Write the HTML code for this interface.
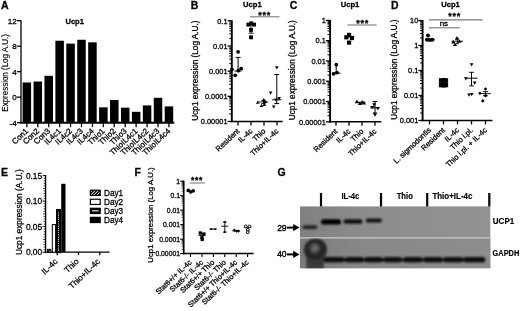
<!DOCTYPE html>
<html><head><meta charset="utf-8"><title>Figure</title>
<style>html,body{margin:0;padding:0;background:#fff}svg{display:block}text{font-family:'Liberation Sans', Arial, sans-serif;stroke:#000;stroke-width:.28px}</style></head>
<body><svg width="520" height="311" viewBox="0 0 520 311">
<rect width="520" height="311" fill="#fff"/>
<text x="1.10" y="8.70" font-size="10.5" text-anchor="start" font-weight="bold" fill="#000">A</text>
<text x="74.70" y="23.60" font-size="7.6" text-anchor="middle" font-weight="bold" fill="#000">Ucp1</text>
<line x1="21.00" y1="20.15" x2="21.00" y2="123.25" stroke="#000" stroke-width="1.3" stroke-linecap="butt"/>
<line x1="16.90" y1="20.65" x2="21.00" y2="20.65" stroke="#000" stroke-width="1.3" stroke-linecap="butt"/>
<text x="16.70" y="23.55" font-size="8" text-anchor="end" font-weight="normal" fill="#000">12</text>
<line x1="16.90" y1="46.15" x2="21.00" y2="46.15" stroke="#000" stroke-width="1.3" stroke-linecap="butt"/>
<text x="16.70" y="49.05" font-size="8" text-anchor="end" font-weight="normal" fill="#000">8</text>
<line x1="16.90" y1="71.65" x2="21.00" y2="71.65" stroke="#000" stroke-width="1.3" stroke-linecap="butt"/>
<text x="16.70" y="74.55" font-size="8" text-anchor="end" font-weight="normal" fill="#000">4</text>
<line x1="16.90" y1="97.15" x2="21.00" y2="97.15" stroke="#000" stroke-width="1.3" stroke-linecap="butt"/>
<text x="16.70" y="100.05" font-size="8" text-anchor="end" font-weight="normal" fill="#000">0</text>
<line x1="16.90" y1="122.65" x2="21.00" y2="122.65" stroke="#000" stroke-width="1.3" stroke-linecap="butt"/>
<text x="16.70" y="125.55" font-size="8" text-anchor="end" font-weight="normal" fill="#000">-4</text>
<rect x="22.60" y="82.49" width="8.50" height="40.16" fill="#000"/>
<rect x="33.53" y="81.53" width="8.50" height="41.12" fill="#000"/>
<rect x="44.46" y="75.79" width="8.50" height="46.86" fill="#000"/>
<rect x="55.39" y="40.73" width="8.50" height="81.92" fill="#000"/>
<rect x="66.32" y="43.60" width="8.50" height="79.05" fill="#000"/>
<rect x="77.25" y="39.77" width="8.50" height="82.88" fill="#000"/>
<rect x="88.18" y="42.33" width="8.50" height="80.33" fill="#000"/>
<rect x="99.11" y="107.35" width="8.50" height="15.30" fill="#000"/>
<rect x="110.04" y="100.02" width="8.50" height="22.63" fill="#000"/>
<rect x="120.97" y="107.67" width="8.50" height="14.98" fill="#000"/>
<rect x="131.90" y="111.81" width="8.50" height="10.84" fill="#000"/>
<rect x="142.83" y="105.44" width="8.50" height="17.21" fill="#000"/>
<rect x="153.76" y="97.79" width="8.50" height="24.86" fill="#000"/>
<rect x="164.69" y="106.39" width="8.50" height="16.26" fill="#000"/>
<line x1="20.05" y1="122.75" x2="174.30" y2="122.75" stroke="#000" stroke-width="1.9" stroke-linecap="butt"/>
<line x1="26.85" y1="122.75" x2="26.85" y2="127.15" stroke="#000" stroke-width="1.3" stroke-linecap="butt"/>
<line x1="37.78" y1="122.75" x2="37.78" y2="127.15" stroke="#000" stroke-width="1.3" stroke-linecap="butt"/>
<line x1="48.71" y1="122.75" x2="48.71" y2="127.15" stroke="#000" stroke-width="1.3" stroke-linecap="butt"/>
<line x1="59.64" y1="122.75" x2="59.64" y2="127.15" stroke="#000" stroke-width="1.3" stroke-linecap="butt"/>
<line x1="70.57" y1="122.75" x2="70.57" y2="127.15" stroke="#000" stroke-width="1.3" stroke-linecap="butt"/>
<line x1="81.50" y1="122.75" x2="81.50" y2="127.15" stroke="#000" stroke-width="1.3" stroke-linecap="butt"/>
<line x1="92.43" y1="122.75" x2="92.43" y2="127.15" stroke="#000" stroke-width="1.3" stroke-linecap="butt"/>
<line x1="103.36" y1="122.75" x2="103.36" y2="127.15" stroke="#000" stroke-width="1.3" stroke-linecap="butt"/>
<line x1="114.29" y1="122.75" x2="114.29" y2="127.15" stroke="#000" stroke-width="1.3" stroke-linecap="butt"/>
<line x1="125.22" y1="122.75" x2="125.22" y2="127.15" stroke="#000" stroke-width="1.3" stroke-linecap="butt"/>
<line x1="136.15" y1="122.75" x2="136.15" y2="127.15" stroke="#000" stroke-width="1.3" stroke-linecap="butt"/>
<line x1="147.08" y1="122.75" x2="147.08" y2="127.15" stroke="#000" stroke-width="1.3" stroke-linecap="butt"/>
<line x1="158.01" y1="122.75" x2="158.01" y2="127.15" stroke="#000" stroke-width="1.3" stroke-linecap="butt"/>
<line x1="168.94" y1="122.75" x2="168.94" y2="127.15" stroke="#000" stroke-width="1.3" stroke-linecap="butt"/>
<text x="28.85" y="131.65" font-size="8" text-anchor="end" font-weight="normal" fill="#000" transform="rotate(-43.5 28.85 131.65)">Con1</text>
<text x="39.78" y="131.65" font-size="8" text-anchor="end" font-weight="normal" fill="#000" transform="rotate(-43.5 39.78 131.65)">Con2</text>
<text x="50.71" y="131.65" font-size="8" text-anchor="end" font-weight="normal" fill="#000" transform="rotate(-43.5 50.71 131.65)">Con3</text>
<text x="61.64" y="131.65" font-size="8" text-anchor="end" font-weight="normal" fill="#000" transform="rotate(-43.5 61.64 131.65)">IL4c1</text>
<text x="72.57" y="131.65" font-size="8" text-anchor="end" font-weight="normal" fill="#000" transform="rotate(-43.5 72.57 131.65)">IL4c2</text>
<text x="83.50" y="131.65" font-size="8" text-anchor="end" font-weight="normal" fill="#000" transform="rotate(-43.5 83.50 131.65)">IL4c3</text>
<text x="94.43" y="131.65" font-size="8" text-anchor="end" font-weight="normal" fill="#000" transform="rotate(-43.5 94.43 131.65)">IL4c4</text>
<text x="105.36" y="131.65" font-size="8" text-anchor="end" font-weight="normal" fill="#000" transform="rotate(-43.5 105.36 131.65)">Thio1</text>
<text x="116.29" y="131.65" font-size="8" text-anchor="end" font-weight="normal" fill="#000" transform="rotate(-43.5 116.29 131.65)">Thio2</text>
<text x="127.22" y="131.65" font-size="8" text-anchor="end" font-weight="normal" fill="#000" transform="rotate(-43.5 127.22 131.65)">Thio3</text>
<text x="138.15" y="131.65" font-size="8" text-anchor="end" font-weight="normal" fill="#000" transform="rotate(-43.5 138.15 131.65)">ThioIL4c1</text>
<text x="149.08" y="131.65" font-size="8" text-anchor="end" font-weight="normal" fill="#000" transform="rotate(-43.5 149.08 131.65)">ThioIL4c2</text>
<text x="160.01" y="131.65" font-size="8" text-anchor="end" font-weight="normal" fill="#000" transform="rotate(-43.5 160.01 131.65)">ThioIL4c3</text>
<text x="170.94" y="131.65" font-size="8" text-anchor="end" font-weight="normal" fill="#000" transform="rotate(-43.5 170.94 131.65)">ThioIL4c4</text>
<text x="7.70" y="72.90" font-size="8.8" text-anchor="middle" font-weight="normal" fill="#000" transform="rotate(-90 7.70 72.90)" textLength="77.5" lengthAdjust="spacingAndGlyphs" style="stroke-width:.15px">Expression (Log A.U.)</text>
<text x="190.80" y="8.80" font-size="10.5" text-anchor="start" font-weight="bold" fill="#000">B</text>
<text x="252.40" y="6.70" font-size="7.6" text-anchor="middle" font-weight="bold" fill="#000">Ucp1</text>
<line x1="231.80" y1="20.30" x2="231.80" y2="122.20" stroke="#000" stroke-width="1.9" stroke-linecap="butt"/>
<line x1="227.60" y1="20.80" x2="231.80" y2="20.80" stroke="#000" stroke-width="1.3" stroke-linecap="butt"/>
<text x="227.50" y="23.61" font-size="7.4" text-anchor="end" font-weight="normal" fill="#000">0.1</text>
<line x1="229.20" y1="38.40" x2="231.80" y2="38.40" stroke="#000" stroke-width="0.95" stroke-linecap="butt"/>
<line x1="229.20" y1="33.96" x2="231.80" y2="33.96" stroke="#000" stroke-width="0.95" stroke-linecap="butt"/>
<line x1="229.20" y1="30.82" x2="231.80" y2="30.82" stroke="#000" stroke-width="0.95" stroke-linecap="butt"/>
<line x1="229.20" y1="28.38" x2="231.80" y2="28.38" stroke="#000" stroke-width="0.95" stroke-linecap="butt"/>
<line x1="229.20" y1="26.39" x2="231.80" y2="26.39" stroke="#000" stroke-width="0.95" stroke-linecap="butt"/>
<line x1="229.20" y1="24.70" x2="231.80" y2="24.70" stroke="#000" stroke-width="0.95" stroke-linecap="butt"/>
<line x1="229.20" y1="23.24" x2="231.80" y2="23.24" stroke="#000" stroke-width="0.95" stroke-linecap="butt"/>
<line x1="229.20" y1="21.95" x2="231.80" y2="21.95" stroke="#000" stroke-width="0.95" stroke-linecap="butt"/>
<line x1="227.60" y1="45.98" x2="231.80" y2="45.98" stroke="#000" stroke-width="1.3" stroke-linecap="butt"/>
<text x="227.50" y="48.79" font-size="7.4" text-anchor="end" font-weight="normal" fill="#000">0.01</text>
<line x1="229.20" y1="63.57" x2="231.80" y2="63.57" stroke="#000" stroke-width="0.95" stroke-linecap="butt"/>
<line x1="229.20" y1="59.14" x2="231.80" y2="59.14" stroke="#000" stroke-width="0.95" stroke-linecap="butt"/>
<line x1="229.20" y1="55.99" x2="231.80" y2="55.99" stroke="#000" stroke-width="0.95" stroke-linecap="butt"/>
<line x1="229.20" y1="53.55" x2="231.80" y2="53.55" stroke="#000" stroke-width="0.95" stroke-linecap="butt"/>
<line x1="229.20" y1="51.56" x2="231.80" y2="51.56" stroke="#000" stroke-width="0.95" stroke-linecap="butt"/>
<line x1="229.20" y1="49.87" x2="231.80" y2="49.87" stroke="#000" stroke-width="0.95" stroke-linecap="butt"/>
<line x1="229.20" y1="48.41" x2="231.80" y2="48.41" stroke="#000" stroke-width="0.95" stroke-linecap="butt"/>
<line x1="229.20" y1="47.13" x2="231.80" y2="47.13" stroke="#000" stroke-width="0.95" stroke-linecap="butt"/>
<line x1="227.60" y1="71.15" x2="231.80" y2="71.15" stroke="#000" stroke-width="1.3" stroke-linecap="butt"/>
<text x="227.50" y="73.96" font-size="7.4" text-anchor="end" font-weight="normal" fill="#000">0.001</text>
<line x1="229.20" y1="88.75" x2="231.80" y2="88.75" stroke="#000" stroke-width="0.95" stroke-linecap="butt"/>
<line x1="229.20" y1="84.31" x2="231.80" y2="84.31" stroke="#000" stroke-width="0.95" stroke-linecap="butt"/>
<line x1="229.20" y1="81.17" x2="231.80" y2="81.17" stroke="#000" stroke-width="0.95" stroke-linecap="butt"/>
<line x1="229.20" y1="78.73" x2="231.80" y2="78.73" stroke="#000" stroke-width="0.95" stroke-linecap="butt"/>
<line x1="229.20" y1="76.74" x2="231.80" y2="76.74" stroke="#000" stroke-width="0.95" stroke-linecap="butt"/>
<line x1="229.20" y1="75.05" x2="231.80" y2="75.05" stroke="#000" stroke-width="0.95" stroke-linecap="butt"/>
<line x1="229.20" y1="73.59" x2="231.80" y2="73.59" stroke="#000" stroke-width="0.95" stroke-linecap="butt"/>
<line x1="229.20" y1="72.30" x2="231.80" y2="72.30" stroke="#000" stroke-width="0.95" stroke-linecap="butt"/>
<line x1="227.60" y1="96.33" x2="231.80" y2="96.33" stroke="#000" stroke-width="1.3" stroke-linecap="butt"/>
<text x="227.50" y="99.14" font-size="7.4" text-anchor="end" font-weight="normal" fill="#000">0.0001</text>
<line x1="229.20" y1="113.92" x2="231.80" y2="113.92" stroke="#000" stroke-width="0.95" stroke-linecap="butt"/>
<line x1="229.20" y1="109.49" x2="231.80" y2="109.49" stroke="#000" stroke-width="0.95" stroke-linecap="butt"/>
<line x1="229.20" y1="106.34" x2="231.80" y2="106.34" stroke="#000" stroke-width="0.95" stroke-linecap="butt"/>
<line x1="229.20" y1="103.90" x2="231.80" y2="103.90" stroke="#000" stroke-width="0.95" stroke-linecap="butt"/>
<line x1="229.20" y1="101.91" x2="231.80" y2="101.91" stroke="#000" stroke-width="0.95" stroke-linecap="butt"/>
<line x1="229.20" y1="100.22" x2="231.80" y2="100.22" stroke="#000" stroke-width="0.95" stroke-linecap="butt"/>
<line x1="229.20" y1="98.76" x2="231.80" y2="98.76" stroke="#000" stroke-width="0.95" stroke-linecap="butt"/>
<line x1="229.20" y1="97.48" x2="231.80" y2="97.48" stroke="#000" stroke-width="0.95" stroke-linecap="butt"/>
<line x1="227.60" y1="121.50" x2="231.80" y2="121.50" stroke="#000" stroke-width="1.3" stroke-linecap="butt"/>
<text x="227.50" y="124.31" font-size="7.4" text-anchor="end" font-weight="normal" fill="#000">0.00001</text>
<line x1="231.00" y1="121.50" x2="282.70" y2="121.50" stroke="#000" stroke-width="1.6" stroke-linecap="butt"/>
<line x1="238.00" y1="121.50" x2="238.00" y2="125.40" stroke="#000" stroke-width="1.3" stroke-linecap="butt"/>
<line x1="251.00" y1="121.50" x2="251.00" y2="125.40" stroke="#000" stroke-width="1.3" stroke-linecap="butt"/>
<line x1="264.00" y1="121.50" x2="264.00" y2="125.40" stroke="#000" stroke-width="1.3" stroke-linecap="butt"/>
<line x1="277.00" y1="121.50" x2="277.00" y2="125.40" stroke="#000" stroke-width="1.3" stroke-linecap="butt"/>
<text x="240.00" y="131.70" font-size="7.5" text-anchor="end" font-weight="normal" fill="#000" transform="rotate(-43.5 240.00 131.70)">Resident</text>
<text x="253.00" y="131.70" font-size="7.5" text-anchor="end" font-weight="normal" fill="#000" transform="rotate(-43.5 253.00 131.70)">IL-4c</text>
<text x="266.00" y="131.70" font-size="7.5" text-anchor="end" font-weight="normal" fill="#000" transform="rotate(-43.5 266.00 131.70)">Thio</text>
<text x="279.00" y="131.70" font-size="7.5" text-anchor="end" font-weight="normal" fill="#000" transform="rotate(-43.5 279.00 131.70)">Thio+IL-4c</text>
<text x="197.60" y="70.60" font-size="8.2" text-anchor="middle" font-weight="normal" fill="#000" transform="rotate(-90 197.60 70.60)">Ucp1 expression (Log A.U.)</text>
<line x1="238.10" y1="57.40" x2="238.10" y2="71.00" stroke="#000" stroke-width="1.0" stroke-linecap="butt"/>
<line x1="235.70" y1="57.40" x2="240.60" y2="57.40" stroke="#000" stroke-width="1.0" stroke-linecap="butt"/>
<line x1="234.50" y1="71.00" x2="241.50" y2="71.00" stroke="#000" stroke-width="1.0" stroke-linecap="butt"/>
<circle cx="238.10" cy="51.80" r="1.90" fill="#000"/>
<circle cx="231.90" cy="69.50" r="1.90" fill="#000"/>
<circle cx="235.20" cy="75.30" r="1.90" fill="#000"/>
<circle cx="238.30" cy="70.70" r="1.90" fill="#000"/>
<circle cx="241.20" cy="68.70" r="1.90" fill="#000"/>
<line x1="248.50" y1="33.20" x2="253.70" y2="33.20" stroke="#000" stroke-width="0.9" stroke-linecap="butt"/>
<line x1="251.00" y1="25.00" x2="251.00" y2="33.20" stroke="#000" stroke-width="0.9" stroke-linecap="butt"/>
<rect x="246.45" y="22.65" width="3.90" height="3.90" fill="#000"/>
<rect x="249.25" y="21.35" width="3.90" height="3.90" fill="#000"/>
<rect x="252.05" y="22.65" width="3.90" height="3.90" fill="#000"/>
<rect x="249.05" y="27.95" width="3.90" height="3.90" fill="#000"/>
<rect x="249.05" y="35.35" width="3.90" height="3.90" fill="#000"/>
<line x1="263.50" y1="100.40" x2="263.50" y2="103.60" stroke="#000" stroke-width="0.9" stroke-linecap="butt"/>
<line x1="261.30" y1="100.40" x2="265.70" y2="100.40" stroke="#000" stroke-width="0.9" stroke-linecap="butt"/>
<line x1="261.30" y1="103.60" x2="265.70" y2="103.60" stroke="#000" stroke-width="0.9" stroke-linecap="butt"/>
<line x1="258.70" y1="101.90" x2="268.30" y2="101.90" stroke="#000" stroke-width="0.9" stroke-linecap="butt"/>
<polygon points="255.96,103.70 259.64,103.70 257.80,100.50" fill="#000"/>
<polygon points="259.66,106.90 263.34,106.90 261.50,103.70" fill="#000"/>
<polygon points="261.96,101.10 265.64,101.10 263.80,97.90" fill="#000"/>
<polygon points="263.36,103.00 267.04,103.00 265.20,99.80" fill="#000"/>
<polygon points="262.56,105.90 266.24,105.90 264.40,102.70" fill="#000"/>
<line x1="276.80" y1="74.50" x2="276.80" y2="103.60" stroke="#000" stroke-width="1.0" stroke-linecap="butt"/>
<line x1="274.40" y1="74.50" x2="279.20" y2="74.50" stroke="#000" stroke-width="1.0" stroke-linecap="butt"/>
<line x1="274.40" y1="103.60" x2="279.20" y2="103.60" stroke="#000" stroke-width="1.0" stroke-linecap="butt"/>
<line x1="272.20" y1="99.80" x2="281.40" y2="99.80" stroke="#000" stroke-width="1.0" stroke-linecap="butt"/>
<polygon points="274.96,66.20 278.64,66.20 276.80,69.40" fill="#000"/>
<polygon points="268.76,91.50 272.44,91.50 270.60,94.70" fill="#000"/>
<polygon points="277.26,97.10 280.94,97.10 279.10,100.30" fill="#000"/>
<polygon points="274.16,98.60 277.84,98.60 276.00,101.80" fill="#000"/>
<polygon points="271.86,105.40 275.54,105.40 273.70,108.60" fill="#000"/>
<line x1="249.80" y1="16.80" x2="279.50" y2="16.80" stroke="#7a7a7a" stroke-width="1.1" stroke-linecap="butt"/>
<text x="264.60" y="17.82" font-size="9" text-anchor="middle" font-weight="bold" fill="#000" letter-spacing="0.8">***</text>
<text x="289.80" y="8.70" font-size="10.5" text-anchor="start" font-weight="bold" fill="#000">C</text>
<text x="350.00" y="6.70" font-size="7.6" text-anchor="middle" font-weight="bold" fill="#000">Ucp1</text>
<line x1="330.10" y1="19.90" x2="330.10" y2="122.50" stroke="#000" stroke-width="1.9" stroke-linecap="butt"/>
<line x1="325.90" y1="20.40" x2="330.10" y2="20.40" stroke="#000" stroke-width="1.3" stroke-linecap="butt"/>
<text x="325.80" y="23.21" font-size="7.4" text-anchor="end" font-weight="normal" fill="#000">1</text>
<line x1="327.50" y1="34.58" x2="330.10" y2="34.58" stroke="#000" stroke-width="0.95" stroke-linecap="butt"/>
<line x1="327.50" y1="31.00" x2="330.10" y2="31.00" stroke="#000" stroke-width="0.95" stroke-linecap="butt"/>
<line x1="327.50" y1="28.47" x2="330.10" y2="28.47" stroke="#000" stroke-width="0.95" stroke-linecap="butt"/>
<line x1="327.50" y1="26.50" x2="330.10" y2="26.50" stroke="#000" stroke-width="0.95" stroke-linecap="butt"/>
<line x1="327.50" y1="24.90" x2="330.10" y2="24.90" stroke="#000" stroke-width="0.95" stroke-linecap="butt"/>
<line x1="327.50" y1="23.54" x2="330.10" y2="23.54" stroke="#000" stroke-width="0.95" stroke-linecap="butt"/>
<line x1="327.50" y1="22.37" x2="330.10" y2="22.37" stroke="#000" stroke-width="0.95" stroke-linecap="butt"/>
<line x1="327.50" y1="21.33" x2="330.10" y2="21.33" stroke="#000" stroke-width="0.95" stroke-linecap="butt"/>
<line x1="325.90" y1="40.68" x2="330.10" y2="40.68" stroke="#000" stroke-width="1.3" stroke-linecap="butt"/>
<text x="325.80" y="43.49" font-size="7.4" text-anchor="end" font-weight="normal" fill="#000">0.1</text>
<line x1="327.50" y1="54.86" x2="330.10" y2="54.86" stroke="#000" stroke-width="0.95" stroke-linecap="butt"/>
<line x1="327.50" y1="51.28" x2="330.10" y2="51.28" stroke="#000" stroke-width="0.95" stroke-linecap="butt"/>
<line x1="327.50" y1="48.75" x2="330.10" y2="48.75" stroke="#000" stroke-width="0.95" stroke-linecap="butt"/>
<line x1="327.50" y1="46.78" x2="330.10" y2="46.78" stroke="#000" stroke-width="0.95" stroke-linecap="butt"/>
<line x1="327.50" y1="45.18" x2="330.10" y2="45.18" stroke="#000" stroke-width="0.95" stroke-linecap="butt"/>
<line x1="327.50" y1="43.82" x2="330.10" y2="43.82" stroke="#000" stroke-width="0.95" stroke-linecap="butt"/>
<line x1="327.50" y1="42.65" x2="330.10" y2="42.65" stroke="#000" stroke-width="0.95" stroke-linecap="butt"/>
<line x1="327.50" y1="41.61" x2="330.10" y2="41.61" stroke="#000" stroke-width="0.95" stroke-linecap="butt"/>
<line x1="325.90" y1="60.96" x2="330.10" y2="60.96" stroke="#000" stroke-width="1.3" stroke-linecap="butt"/>
<text x="325.80" y="63.77" font-size="7.4" text-anchor="end" font-weight="normal" fill="#000">0.01</text>
<line x1="327.50" y1="75.14" x2="330.10" y2="75.14" stroke="#000" stroke-width="0.95" stroke-linecap="butt"/>
<line x1="327.50" y1="71.56" x2="330.10" y2="71.56" stroke="#000" stroke-width="0.95" stroke-linecap="butt"/>
<line x1="327.50" y1="69.03" x2="330.10" y2="69.03" stroke="#000" stroke-width="0.95" stroke-linecap="butt"/>
<line x1="327.50" y1="67.06" x2="330.10" y2="67.06" stroke="#000" stroke-width="0.95" stroke-linecap="butt"/>
<line x1="327.50" y1="65.46" x2="330.10" y2="65.46" stroke="#000" stroke-width="0.95" stroke-linecap="butt"/>
<line x1="327.50" y1="64.10" x2="330.10" y2="64.10" stroke="#000" stroke-width="0.95" stroke-linecap="butt"/>
<line x1="327.50" y1="62.93" x2="330.10" y2="62.93" stroke="#000" stroke-width="0.95" stroke-linecap="butt"/>
<line x1="327.50" y1="61.89" x2="330.10" y2="61.89" stroke="#000" stroke-width="0.95" stroke-linecap="butt"/>
<line x1="325.90" y1="81.24" x2="330.10" y2="81.24" stroke="#000" stroke-width="1.3" stroke-linecap="butt"/>
<text x="325.80" y="84.05" font-size="7.4" text-anchor="end" font-weight="normal" fill="#000">0.001</text>
<line x1="327.50" y1="95.42" x2="330.10" y2="95.42" stroke="#000" stroke-width="0.95" stroke-linecap="butt"/>
<line x1="327.50" y1="91.84" x2="330.10" y2="91.84" stroke="#000" stroke-width="0.95" stroke-linecap="butt"/>
<line x1="327.50" y1="89.31" x2="330.10" y2="89.31" stroke="#000" stroke-width="0.95" stroke-linecap="butt"/>
<line x1="327.50" y1="87.34" x2="330.10" y2="87.34" stroke="#000" stroke-width="0.95" stroke-linecap="butt"/>
<line x1="327.50" y1="85.74" x2="330.10" y2="85.74" stroke="#000" stroke-width="0.95" stroke-linecap="butt"/>
<line x1="327.50" y1="84.38" x2="330.10" y2="84.38" stroke="#000" stroke-width="0.95" stroke-linecap="butt"/>
<line x1="327.50" y1="83.21" x2="330.10" y2="83.21" stroke="#000" stroke-width="0.95" stroke-linecap="butt"/>
<line x1="327.50" y1="82.17" x2="330.10" y2="82.17" stroke="#000" stroke-width="0.95" stroke-linecap="butt"/>
<line x1="325.90" y1="101.52" x2="330.10" y2="101.52" stroke="#000" stroke-width="1.3" stroke-linecap="butt"/>
<text x="325.80" y="104.33" font-size="7.4" text-anchor="end" font-weight="normal" fill="#000">0.0001</text>
<line x1="327.50" y1="115.70" x2="330.10" y2="115.70" stroke="#000" stroke-width="0.95" stroke-linecap="butt"/>
<line x1="327.50" y1="112.12" x2="330.10" y2="112.12" stroke="#000" stroke-width="0.95" stroke-linecap="butt"/>
<line x1="327.50" y1="109.59" x2="330.10" y2="109.59" stroke="#000" stroke-width="0.95" stroke-linecap="butt"/>
<line x1="327.50" y1="107.62" x2="330.10" y2="107.62" stroke="#000" stroke-width="0.95" stroke-linecap="butt"/>
<line x1="327.50" y1="106.02" x2="330.10" y2="106.02" stroke="#000" stroke-width="0.95" stroke-linecap="butt"/>
<line x1="327.50" y1="104.66" x2="330.10" y2="104.66" stroke="#000" stroke-width="0.95" stroke-linecap="butt"/>
<line x1="327.50" y1="103.49" x2="330.10" y2="103.49" stroke="#000" stroke-width="0.95" stroke-linecap="butt"/>
<line x1="327.50" y1="102.45" x2="330.10" y2="102.45" stroke="#000" stroke-width="0.95" stroke-linecap="butt"/>
<line x1="325.90" y1="121.80" x2="330.10" y2="121.80" stroke="#000" stroke-width="1.3" stroke-linecap="butt"/>
<text x="325.80" y="124.61" font-size="7.4" text-anchor="end" font-weight="normal" fill="#000">0.00001</text>
<line x1="329.30" y1="121.80" x2="381.30" y2="121.80" stroke="#000" stroke-width="1.6" stroke-linecap="butt"/>
<line x1="336.00" y1="121.80" x2="336.00" y2="125.70" stroke="#000" stroke-width="1.3" stroke-linecap="butt"/>
<line x1="349.00" y1="121.80" x2="349.00" y2="125.70" stroke="#000" stroke-width="1.3" stroke-linecap="butt"/>
<line x1="362.00" y1="121.80" x2="362.00" y2="125.70" stroke="#000" stroke-width="1.3" stroke-linecap="butt"/>
<line x1="375.00" y1="121.80" x2="375.00" y2="125.70" stroke="#000" stroke-width="1.3" stroke-linecap="butt"/>
<text x="338.00" y="132.00" font-size="7.5" text-anchor="end" font-weight="normal" fill="#000" transform="rotate(-43.5 338.00 132.00)">Resident</text>
<text x="351.00" y="132.00" font-size="7.5" text-anchor="end" font-weight="normal" fill="#000" transform="rotate(-43.5 351.00 132.00)">IL-4c</text>
<text x="364.00" y="132.00" font-size="7.5" text-anchor="end" font-weight="normal" fill="#000" transform="rotate(-43.5 364.00 132.00)">Thio</text>
<text x="377.00" y="132.00" font-size="7.5" text-anchor="end" font-weight="normal" fill="#000" transform="rotate(-43.5 377.00 132.00)">Thio+IL-4c</text>
<text x="295.20" y="70.20" font-size="8.2" text-anchor="middle" font-weight="normal" fill="#000" transform="rotate(-90 295.20 70.20)">Ucp1 expression (Log A.U.)</text>
<line x1="336.20" y1="64.70" x2="336.20" y2="73.20" stroke="#000" stroke-width="1.0" stroke-linecap="butt"/>
<line x1="332.00" y1="73.20" x2="340.50" y2="73.20" stroke="#000" stroke-width="1.0" stroke-linecap="butt"/>
<circle cx="333.60" cy="73.80" r="1.90" fill="#000"/>
<circle cx="337.00" cy="72.60" r="1.90" fill="#000"/>
<circle cx="336.30" cy="64.70" r="1.90" fill="#000"/>
<line x1="344.50" y1="37.00" x2="353.50" y2="37.00" stroke="#000" stroke-width="0.9" stroke-linecap="butt"/>
<rect x="344.30" y="35.20" width="4.20" height="4.20" fill="#000"/>
<rect x="347.00" y="32.80" width="4.20" height="4.20" fill="#000"/>
<rect x="349.90" y="35.90" width="4.20" height="4.20" fill="#000"/>
<rect x="347.00" y="40.50" width="4.20" height="4.20" fill="#000"/>
<line x1="355.50" y1="102.30" x2="365.50" y2="102.30" stroke="#000" stroke-width="1.0" stroke-linecap="butt"/>
<polygon points="354.83,103.20 358.97,103.20 356.90,99.60" fill="#000"/>
<polygon points="357.93,105.00 362.07,105.00 360.00,101.40" fill="#000"/>
<polygon points="360.13,103.70 364.27,103.70 362.20,100.10" fill="#000"/>
<polygon points="361.93,104.50 366.07,104.50 364.00,100.90" fill="#000"/>
<line x1="375.00" y1="101.50" x2="375.00" y2="113.00" stroke="#000" stroke-width="1.0" stroke-linecap="butt"/>
<line x1="372.70" y1="101.50" x2="377.30" y2="101.50" stroke="#000" stroke-width="1.0" stroke-linecap="butt"/>
<line x1="372.70" y1="113.00" x2="377.30" y2="113.00" stroke="#000" stroke-width="1.0" stroke-linecap="butt"/>
<line x1="370.50" y1="107.80" x2="379.50" y2="107.80" stroke="#000" stroke-width="1.0" stroke-linecap="butt"/>
<polygon points="372.25,103.30 376.15,103.30 374.20,106.70" fill="#000"/>
<polygon points="370.25,105.90 374.15,105.90 372.20,109.30" fill="#000"/>
<polygon points="375.85,106.90 379.75,106.90 377.80,110.30" fill="#000"/>
<polygon points="373.05,113.30 376.95,113.30 375.00,116.70" fill="#000"/>
<line x1="347.30" y1="25.00" x2="376.60" y2="25.00" stroke="#7a7a7a" stroke-width="1.1" stroke-linecap="butt"/>
<text x="362.70" y="25.82" font-size="9" text-anchor="middle" font-weight="bold" fill="#000" letter-spacing="0.8">***</text>
<text x="391.00" y="8.80" font-size="10.5" text-anchor="start" font-weight="bold" fill="#000">D</text>
<text x="450.50" y="6.70" font-size="7.6" text-anchor="middle" font-weight="bold" fill="#000">Ucp1</text>
<line x1="422.60" y1="20.00" x2="422.60" y2="121.20" stroke="#000" stroke-width="1.9" stroke-linecap="butt"/>
<line x1="418.40" y1="20.50" x2="422.60" y2="20.50" stroke="#000" stroke-width="1.3" stroke-linecap="butt"/>
<text x="418.30" y="23.31" font-size="7.4" text-anchor="end" font-weight="normal" fill="#000">10</text>
<line x1="420.00" y1="37.97" x2="422.60" y2="37.97" stroke="#000" stroke-width="0.95" stroke-linecap="butt"/>
<line x1="420.00" y1="33.57" x2="422.60" y2="33.57" stroke="#000" stroke-width="0.95" stroke-linecap="butt"/>
<line x1="420.00" y1="30.45" x2="422.60" y2="30.45" stroke="#000" stroke-width="0.95" stroke-linecap="butt"/>
<line x1="420.00" y1="28.03" x2="422.60" y2="28.03" stroke="#000" stroke-width="0.95" stroke-linecap="butt"/>
<line x1="420.00" y1="26.05" x2="422.60" y2="26.05" stroke="#000" stroke-width="0.95" stroke-linecap="butt"/>
<line x1="420.00" y1="24.37" x2="422.60" y2="24.37" stroke="#000" stroke-width="0.95" stroke-linecap="butt"/>
<line x1="420.00" y1="22.92" x2="422.60" y2="22.92" stroke="#000" stroke-width="0.95" stroke-linecap="butt"/>
<line x1="420.00" y1="21.64" x2="422.60" y2="21.64" stroke="#000" stroke-width="0.95" stroke-linecap="butt"/>
<line x1="418.40" y1="45.50" x2="422.60" y2="45.50" stroke="#000" stroke-width="1.3" stroke-linecap="butt"/>
<text x="418.30" y="48.31" font-size="7.4" text-anchor="end" font-weight="normal" fill="#000">1</text>
<line x1="420.00" y1="62.97" x2="422.60" y2="62.97" stroke="#000" stroke-width="0.95" stroke-linecap="butt"/>
<line x1="420.00" y1="58.57" x2="422.60" y2="58.57" stroke="#000" stroke-width="0.95" stroke-linecap="butt"/>
<line x1="420.00" y1="55.45" x2="422.60" y2="55.45" stroke="#000" stroke-width="0.95" stroke-linecap="butt"/>
<line x1="420.00" y1="53.03" x2="422.60" y2="53.03" stroke="#000" stroke-width="0.95" stroke-linecap="butt"/>
<line x1="420.00" y1="51.05" x2="422.60" y2="51.05" stroke="#000" stroke-width="0.95" stroke-linecap="butt"/>
<line x1="420.00" y1="49.37" x2="422.60" y2="49.37" stroke="#000" stroke-width="0.95" stroke-linecap="butt"/>
<line x1="420.00" y1="47.92" x2="422.60" y2="47.92" stroke="#000" stroke-width="0.95" stroke-linecap="butt"/>
<line x1="420.00" y1="46.64" x2="422.60" y2="46.64" stroke="#000" stroke-width="0.95" stroke-linecap="butt"/>
<line x1="418.40" y1="70.50" x2="422.60" y2="70.50" stroke="#000" stroke-width="1.3" stroke-linecap="butt"/>
<text x="418.30" y="73.31" font-size="7.4" text-anchor="end" font-weight="normal" fill="#000">0.1</text>
<line x1="420.00" y1="87.97" x2="422.60" y2="87.97" stroke="#000" stroke-width="0.95" stroke-linecap="butt"/>
<line x1="420.00" y1="83.57" x2="422.60" y2="83.57" stroke="#000" stroke-width="0.95" stroke-linecap="butt"/>
<line x1="420.00" y1="80.45" x2="422.60" y2="80.45" stroke="#000" stroke-width="0.95" stroke-linecap="butt"/>
<line x1="420.00" y1="78.03" x2="422.60" y2="78.03" stroke="#000" stroke-width="0.95" stroke-linecap="butt"/>
<line x1="420.00" y1="76.05" x2="422.60" y2="76.05" stroke="#000" stroke-width="0.95" stroke-linecap="butt"/>
<line x1="420.00" y1="74.37" x2="422.60" y2="74.37" stroke="#000" stroke-width="0.95" stroke-linecap="butt"/>
<line x1="420.00" y1="72.92" x2="422.60" y2="72.92" stroke="#000" stroke-width="0.95" stroke-linecap="butt"/>
<line x1="420.00" y1="71.64" x2="422.60" y2="71.64" stroke="#000" stroke-width="0.95" stroke-linecap="butt"/>
<line x1="418.40" y1="95.50" x2="422.60" y2="95.50" stroke="#000" stroke-width="1.3" stroke-linecap="butt"/>
<text x="418.30" y="98.31" font-size="7.4" text-anchor="end" font-weight="normal" fill="#000">0.01</text>
<line x1="420.00" y1="112.97" x2="422.60" y2="112.97" stroke="#000" stroke-width="0.95" stroke-linecap="butt"/>
<line x1="420.00" y1="108.57" x2="422.60" y2="108.57" stroke="#000" stroke-width="0.95" stroke-linecap="butt"/>
<line x1="420.00" y1="105.45" x2="422.60" y2="105.45" stroke="#000" stroke-width="0.95" stroke-linecap="butt"/>
<line x1="420.00" y1="103.03" x2="422.60" y2="103.03" stroke="#000" stroke-width="0.95" stroke-linecap="butt"/>
<line x1="420.00" y1="101.05" x2="422.60" y2="101.05" stroke="#000" stroke-width="0.95" stroke-linecap="butt"/>
<line x1="420.00" y1="99.37" x2="422.60" y2="99.37" stroke="#000" stroke-width="0.95" stroke-linecap="butt"/>
<line x1="420.00" y1="97.92" x2="422.60" y2="97.92" stroke="#000" stroke-width="0.95" stroke-linecap="butt"/>
<line x1="420.00" y1="96.64" x2="422.60" y2="96.64" stroke="#000" stroke-width="0.95" stroke-linecap="butt"/>
<line x1="418.40" y1="120.50" x2="422.60" y2="120.50" stroke="#000" stroke-width="1.3" stroke-linecap="butt"/>
<text x="418.30" y="123.31" font-size="7.4" text-anchor="end" font-weight="normal" fill="#000">0.001</text>
<line x1="421.80" y1="120.50" x2="492.40" y2="120.50" stroke="#000" stroke-width="1.6" stroke-linecap="butt"/>
<line x1="429.50" y1="120.50" x2="429.50" y2="124.40" stroke="#000" stroke-width="1.3" stroke-linecap="butt"/>
<line x1="443.50" y1="120.50" x2="443.50" y2="124.40" stroke="#000" stroke-width="1.3" stroke-linecap="butt"/>
<line x1="457.50" y1="120.50" x2="457.50" y2="124.40" stroke="#000" stroke-width="1.3" stroke-linecap="butt"/>
<line x1="471.50" y1="120.50" x2="471.50" y2="124.40" stroke="#000" stroke-width="1.3" stroke-linecap="butt"/>
<line x1="485.50" y1="120.50" x2="485.50" y2="124.40" stroke="#000" stroke-width="1.3" stroke-linecap="butt"/>
<text x="431.50" y="130.70" font-size="7.5" text-anchor="end" font-weight="normal" fill="#000" transform="rotate(-43.5 431.50 130.70)">L. sigmodontis</text>
<text x="445.50" y="130.70" font-size="7.5" text-anchor="end" font-weight="normal" fill="#000" transform="rotate(-43.5 445.50 130.70)">Resident</text>
<text x="459.50" y="130.70" font-size="7.5" text-anchor="end" font-weight="normal" fill="#000" transform="rotate(-43.5 459.50 130.70)">IL-4c</text>
<text x="473.50" y="130.70" font-size="7.5" text-anchor="end" font-weight="normal" fill="#000" transform="rotate(-43.5 473.50 130.70)">Thio i.pl.</text>
<text x="487.50" y="130.70" font-size="7.5" text-anchor="end" font-weight="normal" fill="#000" transform="rotate(-43.5 487.50 130.70)">Thio i.pl. + IL-4c</text>
<text x="397.30" y="69.60" font-size="8.2" text-anchor="middle" font-weight="normal" fill="#000" transform="rotate(-90 397.30 69.60)">Ucp1 expression (Log A.U.)</text>
<line x1="425.00" y1="39.60" x2="434.50" y2="39.60" stroke="#000" stroke-width="1.0" stroke-linecap="butt"/>
<circle cx="428.00" cy="35.60" r="2.00" fill="#000"/>
<circle cx="427.00" cy="39.70" r="2.00" fill="#000"/>
<circle cx="429.90" cy="39.90" r="2.00" fill="#000"/>
<circle cx="432.40" cy="39.70" r="2.00" fill="#000"/>
<rect x="438.90" y="78.20" width="4.60" height="4.60" fill="#000"/>
<rect x="443.50" y="78.20" width="4.60" height="4.60" fill="#000"/>
<rect x="441.20" y="80.50" width="4.60" height="4.60" fill="#000"/>
<rect x="438.90" y="82.70" width="4.60" height="4.60" fill="#000"/>
<rect x="443.50" y="82.70" width="4.60" height="4.60" fill="#000"/>
<rect x="441.20" y="78.00" width="4.60" height="4.60" fill="#000"/>
<rect x="441.20" y="82.90" width="4.60" height="4.60" fill="#000"/>
<line x1="457.30" y1="38.70" x2="457.30" y2="43.60" stroke="#000" stroke-width="0.9" stroke-linecap="butt"/>
<line x1="455.70" y1="38.70" x2="458.90" y2="38.70" stroke="#000" stroke-width="0.9" stroke-linecap="butt"/>
<line x1="455.70" y1="43.60" x2="458.90" y2="43.60" stroke="#000" stroke-width="0.9" stroke-linecap="butt"/>
<line x1="451.50" y1="41.20" x2="463.10" y2="41.20" stroke="#000" stroke-width="0.9" stroke-linecap="butt"/>
<polygon points="454.83,39.70 458.97,39.70 456.90,36.10" fill="#000"/>
<polygon points="451.23,43.50 455.37,43.50 453.30,39.90" fill="#000"/>
<polygon points="457.43,42.80 461.57,42.80 459.50,39.20" fill="#000"/>
<polygon points="452.93,46.10 457.07,46.10 455.00,42.50" fill="#000"/>
<line x1="471.50" y1="72.30" x2="471.50" y2="85.90" stroke="#000" stroke-width="1.0" stroke-linecap="butt"/>
<line x1="469.20" y1="72.30" x2="473.80" y2="72.30" stroke="#000" stroke-width="1.0" stroke-linecap="butt"/>
<line x1="469.20" y1="85.90" x2="473.80" y2="85.90" stroke="#000" stroke-width="1.0" stroke-linecap="butt"/>
<line x1="465.50" y1="78.20" x2="477.50" y2="78.20" stroke="#000" stroke-width="1.0" stroke-linecap="butt"/>
<polygon points="469.76,63.30 473.44,63.30 471.60,66.50" fill="#000"/>
<polygon points="463.96,77.30 467.64,77.30 465.80,80.50" fill="#000"/>
<polygon points="472.86,81.50 476.54,81.50 474.70,84.70" fill="#000"/>
<polygon points="467.16,93.50 470.84,93.50 469.00,96.70" fill="#000"/>
<polygon points="469.86,93.10 473.54,93.10 471.70,96.30" fill="#000"/>
<line x1="485.50" y1="91.60" x2="485.50" y2="95.80" stroke="#000" stroke-width="0.9" stroke-linecap="butt"/>
<line x1="482.90" y1="91.60" x2="488.10" y2="91.60" stroke="#000" stroke-width="0.9" stroke-linecap="butt"/>
<line x1="482.90" y1="95.80" x2="488.10" y2="95.80" stroke="#000" stroke-width="0.9" stroke-linecap="butt"/>
<line x1="480.10" y1="93.60" x2="490.90" y2="93.60" stroke="#000" stroke-width="0.9" stroke-linecap="butt"/>
<polygon points="483.70,89.00 485.50,87.20 487.30,89.00 485.50,90.80" fill="#000"/>
<polygon points="478.10,93.20 479.90,91.40 481.70,93.20 479.90,95.00" fill="#000"/>
<polygon points="483.70,95.60 485.50,93.80 487.30,95.60 485.50,97.40" fill="#000"/>
<polygon points="481.00,100.90 482.80,99.10 484.60,100.90 482.80,102.70" fill="#000"/>
<line x1="429.00" y1="19.90" x2="482.40" y2="19.90" stroke="#7a7a7a" stroke-width="1.1" stroke-linecap="butt"/>
<text x="454.70" y="19.12" font-size="9" text-anchor="middle" font-weight="bold" fill="#000" letter-spacing="0.8">***</text>
<line x1="429.00" y1="27.80" x2="459.80" y2="27.80" stroke="#7a7a7a" stroke-width="1.1" stroke-linecap="butt"/>
<text x="443.90" y="25.70" font-size="8" text-anchor="middle" font-weight="normal" fill="#000">ns</text>
<text x="1.00" y="176.30" font-size="10.5" text-anchor="start" font-weight="bold" fill="#000">E</text>
<line x1="45.60" y1="175.10" x2="45.60" y2="252.80" stroke="#000" stroke-width="1.3" stroke-linecap="butt"/>
<line x1="42.60" y1="175.60" x2="45.60" y2="175.60" stroke="#000" stroke-width="1.0" stroke-linecap="butt"/>
<text x="42.20" y="178.60" font-size="8.4" text-anchor="end" font-weight="normal" fill="#000">0.15</text>
<line x1="43.70" y1="178.15" x2="45.60" y2="178.15" stroke="#000" stroke-width="0.8" stroke-linecap="butt"/>
<line x1="43.70" y1="180.71" x2="45.60" y2="180.71" stroke="#000" stroke-width="0.8" stroke-linecap="butt"/>
<line x1="43.70" y1="183.26" x2="45.60" y2="183.26" stroke="#000" stroke-width="0.8" stroke-linecap="butt"/>
<line x1="43.70" y1="185.81" x2="45.60" y2="185.81" stroke="#000" stroke-width="0.8" stroke-linecap="butt"/>
<line x1="43.00" y1="188.37" x2="45.60" y2="188.37" stroke="#000" stroke-width="0.8" stroke-linecap="butt"/>
<line x1="43.70" y1="190.92" x2="45.60" y2="190.92" stroke="#000" stroke-width="0.8" stroke-linecap="butt"/>
<line x1="43.70" y1="193.47" x2="45.60" y2="193.47" stroke="#000" stroke-width="0.8" stroke-linecap="butt"/>
<line x1="43.70" y1="196.03" x2="45.60" y2="196.03" stroke="#000" stroke-width="0.8" stroke-linecap="butt"/>
<line x1="43.70" y1="198.58" x2="45.60" y2="198.58" stroke="#000" stroke-width="0.8" stroke-linecap="butt"/>
<line x1="42.60" y1="201.13" x2="45.60" y2="201.13" stroke="#000" stroke-width="1.0" stroke-linecap="butt"/>
<text x="42.20" y="204.13" font-size="8.4" text-anchor="end" font-weight="normal" fill="#000">0.10</text>
<line x1="43.70" y1="203.69" x2="45.60" y2="203.69" stroke="#000" stroke-width="0.8" stroke-linecap="butt"/>
<line x1="43.70" y1="206.24" x2="45.60" y2="206.24" stroke="#000" stroke-width="0.8" stroke-linecap="butt"/>
<line x1="43.70" y1="208.79" x2="45.60" y2="208.79" stroke="#000" stroke-width="0.8" stroke-linecap="butt"/>
<line x1="43.70" y1="211.35" x2="45.60" y2="211.35" stroke="#000" stroke-width="0.8" stroke-linecap="butt"/>
<line x1="43.00" y1="213.90" x2="45.60" y2="213.90" stroke="#000" stroke-width="0.8" stroke-linecap="butt"/>
<line x1="43.70" y1="216.45" x2="45.60" y2="216.45" stroke="#000" stroke-width="0.8" stroke-linecap="butt"/>
<line x1="43.70" y1="219.01" x2="45.60" y2="219.01" stroke="#000" stroke-width="0.8" stroke-linecap="butt"/>
<line x1="43.70" y1="221.56" x2="45.60" y2="221.56" stroke="#000" stroke-width="0.8" stroke-linecap="butt"/>
<line x1="43.70" y1="224.11" x2="45.60" y2="224.11" stroke="#000" stroke-width="0.8" stroke-linecap="butt"/>
<line x1="42.60" y1="226.67" x2="45.60" y2="226.67" stroke="#000" stroke-width="1.0" stroke-linecap="butt"/>
<text x="42.20" y="229.67" font-size="8.4" text-anchor="end" font-weight="normal" fill="#000">0.05</text>
<line x1="43.70" y1="229.22" x2="45.60" y2="229.22" stroke="#000" stroke-width="0.8" stroke-linecap="butt"/>
<line x1="43.70" y1="231.77" x2="45.60" y2="231.77" stroke="#000" stroke-width="0.8" stroke-linecap="butt"/>
<line x1="43.70" y1="234.33" x2="45.60" y2="234.33" stroke="#000" stroke-width="0.8" stroke-linecap="butt"/>
<line x1="43.70" y1="236.88" x2="45.60" y2="236.88" stroke="#000" stroke-width="0.8" stroke-linecap="butt"/>
<line x1="43.00" y1="239.43" x2="45.60" y2="239.43" stroke="#000" stroke-width="0.8" stroke-linecap="butt"/>
<line x1="43.70" y1="241.99" x2="45.60" y2="241.99" stroke="#000" stroke-width="0.8" stroke-linecap="butt"/>
<line x1="43.70" y1="244.54" x2="45.60" y2="244.54" stroke="#000" stroke-width="0.8" stroke-linecap="butt"/>
<line x1="43.70" y1="247.09" x2="45.60" y2="247.09" stroke="#000" stroke-width="0.8" stroke-linecap="butt"/>
<line x1="43.70" y1="249.65" x2="45.60" y2="249.65" stroke="#000" stroke-width="0.8" stroke-linecap="butt"/>
<line x1="42.60" y1="252.20" x2="45.60" y2="252.20" stroke="#000" stroke-width="1.0" stroke-linecap="butt"/>
<text x="42.20" y="255.20" font-size="8.4" text-anchor="end" font-weight="normal" fill="#000">0.00</text>
<line x1="44.95" y1="252.20" x2="109.50" y2="252.20" stroke="#000" stroke-width="1.3" stroke-linecap="butt"/>
<line x1="57.30" y1="252.20" x2="57.30" y2="255.20" stroke="#000" stroke-width="1.3" stroke-linecap="butt"/>
<line x1="78.50" y1="252.20" x2="78.50" y2="255.20" stroke="#000" stroke-width="1.3" stroke-linecap="butt"/>
<line x1="99.80" y1="252.20" x2="99.80" y2="255.20" stroke="#000" stroke-width="1.3" stroke-linecap="butt"/>
<text x="58.10" y="262.20" font-size="8.3" text-anchor="end" font-weight="normal" fill="#000" transform="rotate(-43.5 58.10 262.20)">IL-4c</text>
<text x="79.30" y="262.20" font-size="8.3" text-anchor="end" font-weight="normal" fill="#000" transform="rotate(-43.5 79.30 262.20)">Thio</text>
<text x="100.60" y="262.20" font-size="8.3" text-anchor="end" font-weight="normal" fill="#000" transform="rotate(-43.5 100.60 262.20)">Thio+IL-4c</text>
<text x="22.00" y="212.20" font-size="8.3" text-anchor="middle" font-weight="normal" fill="#000" transform="rotate(-90 22.00 212.20)">Ucp1 expression (A.U.)</text>
<defs><pattern id="hz" width="2" height="2.2" patternUnits="userSpaceOnUse"><rect width="2" height="2.2" fill="#fff"/><rect width="2" height="1.2" fill="#000"/></pattern><pattern id="dg" width="2" height="2.2" patternUnits="userSpaceOnUse" patternTransform="rotate(-45)"><rect width="2" height="2.2" fill="#fff"/><rect width="2" height="1.45" fill="#000"/></pattern></defs>
<rect x="47.40" y="249.30" width="3.40" height="2.90" fill="url(#dg)" stroke="#000" stroke-width="0.9"/>
<rect x="52.30" y="224.60" width="3.30" height="27.60" fill="#fff" stroke="#000" stroke-width="1.0"/>
<rect x="57.00" y="210.00" width="3.00" height="42.20" fill="url(#hz)" stroke="#000" stroke-width="2.0"/>
<rect x="61.20" y="183.80" width="4.30" height="68.40" fill="#000"/>
<rect x="90.40" y="190.20" width="9.80" height="5.20" fill="url(#dg)" stroke="#000" stroke-width="1.2"/>
<text x="104.00" y="195.80" font-size="8.2" text-anchor="start" font-weight="normal" fill="#000">Day1</text>
<rect x="90.40" y="199.25" width="9.80" height="5.20" fill="#fff" stroke="#000" stroke-width="1.2"/>
<text x="104.00" y="204.85" font-size="8.2" text-anchor="start" font-weight="normal" fill="#000">Day2</text>
<rect x="90.40" y="208.30" width="9.80" height="5.20" fill="#000" stroke="#000" stroke-width="1.2"/>
<rect x="92.00" y="210.30" width="6.60" height="1.10" fill="#fff"/>
<text x="104.00" y="213.90" font-size="8.2" text-anchor="start" font-weight="normal" fill="#000">Day3</text>
<rect x="90.40" y="217.35" width="9.80" height="5.20" fill="#000" stroke="#000" stroke-width="1.2"/>
<text x="104.00" y="222.95" font-size="8.2" text-anchor="start" font-weight="normal" fill="#000">Day4</text>
<text x="134.50" y="176.30" font-size="10.5" text-anchor="start" font-weight="bold" fill="#000">F</text>
<line x1="183.70" y1="180.70" x2="183.70" y2="254.30" stroke="#000" stroke-width="1.7" stroke-linecap="butt"/>
<line x1="180.10" y1="181.20" x2="183.70" y2="181.20" stroke="#000" stroke-width="1.1" stroke-linecap="butt"/>
<text x="180.00" y="183.78" font-size="6.8" text-anchor="end" font-weight="normal" fill="#000">1</text>
<line x1="181.60" y1="191.32" x2="183.70" y2="191.32" stroke="#000" stroke-width="0.6" stroke-linecap="butt"/>
<line x1="181.60" y1="188.77" x2="183.70" y2="188.77" stroke="#000" stroke-width="0.6" stroke-linecap="butt"/>
<line x1="181.60" y1="186.96" x2="183.70" y2="186.96" stroke="#000" stroke-width="0.6" stroke-linecap="butt"/>
<line x1="181.60" y1="185.56" x2="183.70" y2="185.56" stroke="#000" stroke-width="0.6" stroke-linecap="butt"/>
<line x1="181.60" y1="184.41" x2="183.70" y2="184.41" stroke="#000" stroke-width="0.6" stroke-linecap="butt"/>
<line x1="181.60" y1="183.44" x2="183.70" y2="183.44" stroke="#000" stroke-width="0.6" stroke-linecap="butt"/>
<line x1="181.60" y1="182.60" x2="183.70" y2="182.60" stroke="#000" stroke-width="0.6" stroke-linecap="butt"/>
<line x1="181.60" y1="181.86" x2="183.70" y2="181.86" stroke="#000" stroke-width="0.6" stroke-linecap="butt"/>
<line x1="180.10" y1="195.68" x2="183.70" y2="195.68" stroke="#000" stroke-width="1.1" stroke-linecap="butt"/>
<text x="180.00" y="198.26" font-size="6.8" text-anchor="end" font-weight="normal" fill="#000">0.1</text>
<line x1="181.60" y1="205.80" x2="183.70" y2="205.80" stroke="#000" stroke-width="0.6" stroke-linecap="butt"/>
<line x1="181.60" y1="203.25" x2="183.70" y2="203.25" stroke="#000" stroke-width="0.6" stroke-linecap="butt"/>
<line x1="181.60" y1="201.44" x2="183.70" y2="201.44" stroke="#000" stroke-width="0.6" stroke-linecap="butt"/>
<line x1="181.60" y1="200.04" x2="183.70" y2="200.04" stroke="#000" stroke-width="0.6" stroke-linecap="butt"/>
<line x1="181.60" y1="198.89" x2="183.70" y2="198.89" stroke="#000" stroke-width="0.6" stroke-linecap="butt"/>
<line x1="181.60" y1="197.92" x2="183.70" y2="197.92" stroke="#000" stroke-width="0.6" stroke-linecap="butt"/>
<line x1="181.60" y1="197.08" x2="183.70" y2="197.08" stroke="#000" stroke-width="0.6" stroke-linecap="butt"/>
<line x1="181.60" y1="196.34" x2="183.70" y2="196.34" stroke="#000" stroke-width="0.6" stroke-linecap="butt"/>
<line x1="180.10" y1="210.16" x2="183.70" y2="210.16" stroke="#000" stroke-width="1.1" stroke-linecap="butt"/>
<text x="180.00" y="212.74" font-size="6.8" text-anchor="end" font-weight="normal" fill="#000">0.01</text>
<line x1="181.60" y1="220.28" x2="183.70" y2="220.28" stroke="#000" stroke-width="0.6" stroke-linecap="butt"/>
<line x1="181.60" y1="217.73" x2="183.70" y2="217.73" stroke="#000" stroke-width="0.6" stroke-linecap="butt"/>
<line x1="181.60" y1="215.92" x2="183.70" y2="215.92" stroke="#000" stroke-width="0.6" stroke-linecap="butt"/>
<line x1="181.60" y1="214.52" x2="183.70" y2="214.52" stroke="#000" stroke-width="0.6" stroke-linecap="butt"/>
<line x1="181.60" y1="213.37" x2="183.70" y2="213.37" stroke="#000" stroke-width="0.6" stroke-linecap="butt"/>
<line x1="181.60" y1="212.40" x2="183.70" y2="212.40" stroke="#000" stroke-width="0.6" stroke-linecap="butt"/>
<line x1="181.60" y1="211.56" x2="183.70" y2="211.56" stroke="#000" stroke-width="0.6" stroke-linecap="butt"/>
<line x1="181.60" y1="210.82" x2="183.70" y2="210.82" stroke="#000" stroke-width="0.6" stroke-linecap="butt"/>
<line x1="180.10" y1="224.64" x2="183.70" y2="224.64" stroke="#000" stroke-width="1.1" stroke-linecap="butt"/>
<text x="180.00" y="227.22" font-size="6.8" text-anchor="end" font-weight="normal" fill="#000">0.001</text>
<line x1="181.60" y1="234.76" x2="183.70" y2="234.76" stroke="#000" stroke-width="0.6" stroke-linecap="butt"/>
<line x1="181.60" y1="232.21" x2="183.70" y2="232.21" stroke="#000" stroke-width="0.6" stroke-linecap="butt"/>
<line x1="181.60" y1="230.40" x2="183.70" y2="230.40" stroke="#000" stroke-width="0.6" stroke-linecap="butt"/>
<line x1="181.60" y1="229.00" x2="183.70" y2="229.00" stroke="#000" stroke-width="0.6" stroke-linecap="butt"/>
<line x1="181.60" y1="227.85" x2="183.70" y2="227.85" stroke="#000" stroke-width="0.6" stroke-linecap="butt"/>
<line x1="181.60" y1="226.88" x2="183.70" y2="226.88" stroke="#000" stroke-width="0.6" stroke-linecap="butt"/>
<line x1="181.60" y1="226.04" x2="183.70" y2="226.04" stroke="#000" stroke-width="0.6" stroke-linecap="butt"/>
<line x1="181.60" y1="225.30" x2="183.70" y2="225.30" stroke="#000" stroke-width="0.6" stroke-linecap="butt"/>
<line x1="180.10" y1="239.12" x2="183.70" y2="239.12" stroke="#000" stroke-width="1.1" stroke-linecap="butt"/>
<text x="180.00" y="241.70" font-size="6.8" text-anchor="end" font-weight="normal" fill="#000">0.0001</text>
<line x1="181.60" y1="249.24" x2="183.70" y2="249.24" stroke="#000" stroke-width="0.6" stroke-linecap="butt"/>
<line x1="181.60" y1="246.69" x2="183.70" y2="246.69" stroke="#000" stroke-width="0.6" stroke-linecap="butt"/>
<line x1="181.60" y1="244.88" x2="183.70" y2="244.88" stroke="#000" stroke-width="0.6" stroke-linecap="butt"/>
<line x1="181.60" y1="243.48" x2="183.70" y2="243.48" stroke="#000" stroke-width="0.6" stroke-linecap="butt"/>
<line x1="181.60" y1="242.33" x2="183.70" y2="242.33" stroke="#000" stroke-width="0.6" stroke-linecap="butt"/>
<line x1="181.60" y1="241.36" x2="183.70" y2="241.36" stroke="#000" stroke-width="0.6" stroke-linecap="butt"/>
<line x1="181.60" y1="240.52" x2="183.70" y2="240.52" stroke="#000" stroke-width="0.6" stroke-linecap="butt"/>
<line x1="181.60" y1="239.78" x2="183.70" y2="239.78" stroke="#000" stroke-width="0.6" stroke-linecap="butt"/>
<line x1="180.10" y1="253.60" x2="183.70" y2="253.60" stroke="#000" stroke-width="1.1" stroke-linecap="butt"/>
<text x="180.00" y="256.18" font-size="6.8" text-anchor="end" font-weight="normal" fill="#000">0.00001</text>
<line x1="182.95" y1="253.60" x2="253.60" y2="253.60" stroke="#000" stroke-width="1.5" stroke-linecap="butt"/>
<line x1="190.50" y1="253.60" x2="190.50" y2="257.00" stroke="#000" stroke-width="1.1" stroke-linecap="butt"/>
<line x1="202.00" y1="253.60" x2="202.00" y2="257.00" stroke="#000" stroke-width="1.1" stroke-linecap="butt"/>
<line x1="213.40" y1="253.60" x2="213.40" y2="257.00" stroke="#000" stroke-width="1.1" stroke-linecap="butt"/>
<line x1="224.80" y1="253.60" x2="224.80" y2="257.00" stroke="#000" stroke-width="1.1" stroke-linecap="butt"/>
<line x1="236.20" y1="253.60" x2="236.20" y2="257.00" stroke="#000" stroke-width="1.1" stroke-linecap="butt"/>
<line x1="247.60" y1="253.60" x2="247.60" y2="257.00" stroke="#000" stroke-width="1.1" stroke-linecap="butt"/>
<text x="192.10" y="262.90" font-size="7.4" text-anchor="end" font-weight="normal" fill="#000" transform="rotate(-43.5 192.10 262.90)">Stat6+/+ IL-4c</text>
<text x="203.60" y="262.90" font-size="7.4" text-anchor="end" font-weight="normal" fill="#000" transform="rotate(-43.5 203.60 262.90)">Stat6-/- IL-4c</text>
<text x="215.00" y="262.90" font-size="7.4" text-anchor="end" font-weight="normal" fill="#000" transform="rotate(-43.5 215.00 262.90)">Stat6+/+ Thio</text>
<text x="226.40" y="262.90" font-size="7.4" text-anchor="end" font-weight="normal" fill="#000" transform="rotate(-43.5 226.40 262.90)">Stat6-/- Thio</text>
<text x="237.80" y="262.90" font-size="7.4" text-anchor="end" font-weight="normal" fill="#000" transform="rotate(-43.5 237.80 262.90)">Stat6+/+ Thio+IL-4c</text>
<text x="249.20" y="262.90" font-size="7.4" text-anchor="end" font-weight="normal" fill="#000" transform="rotate(-43.5 249.20 262.90)">Stat6-/- Thio+IL-4c</text>
<text x="152.50" y="215.00" font-size="7.8" text-anchor="middle" font-weight="normal" fill="#000" transform="rotate(-90 152.50 215.00)">Ucp1 expression (Log A.U.)</text>
<line x1="186.50" y1="191.10" x2="194.80" y2="191.10" stroke="#000" stroke-width="0.9" stroke-linecap="butt"/>
<circle cx="188.30" cy="190.40" r="1.80" fill="#000"/>
<circle cx="190.70" cy="192.00" r="1.80" fill="#000"/>
<circle cx="193.20" cy="190.90" r="1.80" fill="#000"/>
<line x1="202.00" y1="233.50" x2="202.00" y2="238.00" stroke="#000" stroke-width="0.8" stroke-linecap="butt"/>
<line x1="200.50" y1="233.50" x2="203.50" y2="233.50" stroke="#000" stroke-width="0.8" stroke-linecap="butt"/>
<line x1="200.50" y1="238.00" x2="203.50" y2="238.00" stroke="#000" stroke-width="0.8" stroke-linecap="butt"/>
<line x1="198.50" y1="235.50" x2="205.50" y2="235.50" stroke="#000" stroke-width="0.8" stroke-linecap="butt"/>
<rect x="198.65" y="231.35" width="3.30" height="3.30" fill="#000"/>
<rect x="202.25" y="232.35" width="3.30" height="3.30" fill="#000"/>
<rect x="200.35" y="235.65" width="3.30" height="3.30" fill="#000"/>
<rect x="200.55" y="237.85" width="3.30" height="3.30" fill="#000"/>
<line x1="209.30" y1="229.00" x2="217.20" y2="229.00" stroke="#000" stroke-width="0.9" stroke-linecap="butt"/>
<polygon points="209.92,230.10 212.68,230.10 211.30,227.70" fill="#000"/>
<polygon points="213.62,230.10 216.38,230.10 215.00,227.70" fill="#000"/>
<line x1="224.80" y1="222.50" x2="224.80" y2="232.00" stroke="#000" stroke-width="0.9" stroke-linecap="butt"/>
<line x1="223.20" y1="222.50" x2="226.40" y2="222.50" stroke="#000" stroke-width="0.9" stroke-linecap="butt"/>
<line x1="223.20" y1="232.00" x2="226.40" y2="232.00" stroke="#000" stroke-width="0.9" stroke-linecap="butt"/>
<line x1="221.20" y1="226.20" x2="228.40" y2="226.20" stroke="#000" stroke-width="0.9" stroke-linecap="butt"/>
<polygon points="223.31,221.00 226.30,221.00 224.80,223.60" fill="#000"/>
<polygon points="223.31,232.90 226.30,232.90 224.80,230.30" fill="#000"/>
<line x1="232.30" y1="230.80" x2="240.20" y2="230.80" stroke="#000" stroke-width="0.9" stroke-linecap="butt"/>
<polygon points="232.62,230.30 234.30,228.62 235.98,230.30 234.30,231.98" fill="#000"/>
<polygon points="234.82,231.10 236.50,229.42 238.18,231.10 236.50,232.78" fill="#000"/>
<polygon points="236.62,231.10 238.30,229.42 239.98,231.10 238.30,232.78" fill="#000"/>
<line x1="244.00" y1="227.60" x2="251.20" y2="227.60" stroke="#000" stroke-width="0.8" stroke-linecap="butt"/>
<circle cx="245.80" cy="226.40" r="1.40" fill="#fff" stroke="#000" stroke-width="1.0"/>
<circle cx="249.60" cy="226.40" r="1.40" fill="#fff" stroke="#000" stroke-width="1.0"/>
<circle cx="247.80" cy="229.80" r="1.40" fill="#fff" stroke="#000" stroke-width="1.0"/>
<circle cx="247.80" cy="232.20" r="1.40" fill="#fff" stroke="#000" stroke-width="1.0"/>
<line x1="189.70" y1="183.00" x2="204.80" y2="183.00" stroke="#707070" stroke-width="1.0" stroke-linecap="butt"/>
<text x="196.95" y="182.88" font-size="8.5" text-anchor="middle" font-weight="bold" fill="#000" letter-spacing="0.7">***</text>
<text x="277.50" y="176.40" font-size="10.5" text-anchor="start" font-weight="bold" fill="#000">G</text>
<defs><filter id="b1" x="-20%" y="-50%" width="140%" height="200%"><feGaussianBlur stdDeviation="0.9"/></filter><filter id="b2" x="-30%" y="-30%" width="160%" height="160%"><feGaussianBlur stdDeviation="1.3"/></filter><radialGradient id="rg" cx="0.47" cy="0.42" r="0.52"><stop offset="0" stop-color="#707070"/><stop offset="0.22" stop-color="#606060"/><stop offset="0.5" stop-color="#2a2a2a"/><stop offset="0.9" stop-color="#222"/><stop offset="1" stop-color="#3a3a3a"/></radialGradient><linearGradient id="bg1" x1="0" y1="0" x2="1" y2="0"><stop offset="0" stop-color="#808080"/><stop offset="0.3" stop-color="#8b8b8b"/><stop offset="1" stop-color="#939393"/></linearGradient><linearGradient id="bg2" x1="0" y1="0" x2="1" y2="0"><stop offset="0" stop-color="#7a7a7a"/><stop offset="0.3" stop-color="#878787"/><stop offset="1" stop-color="#8d8d8d"/></linearGradient><linearGradient id="lg" x1="0" y1="0" x2="0" y2="1"><stop offset="0" stop-color="#262626"/><stop offset="1" stop-color="#444"/></linearGradient><clipPath id="cpu"><rect x="300" y="206.4" width="190.3" height="30.6"/></clipPath><clipPath id="cpl"><rect x="300" y="238.2" width="190.3" height="30"/></clipPath></defs>
<rect x="300.00" y="206.40" width="190.30" height="61.80" fill="url(#bg1)"/>
<rect x="300.00" y="238.20" width="190.30" height="30.00" fill="url(#bg2)"/>
<rect x="300.00" y="237.10" width="190.30" height="1.50" fill="#c0c0c0"/>
<g clip-path="url(#cpu)" filter="url(#b1)">
<rect x="302.60" y="225.50" width="14.60" height="3.40" fill="#1c1c1c" rx="1.7"/>
<rect x="321.00" y="219.30" width="20.00" height="5.20" fill="#050505" rx="2.6"/>
<rect x="343.60" y="219.20" width="18.80" height="4.60" fill="#0a0a0a" rx="2.3"/>
<rect x="365.80" y="218.40" width="16.20" height="4.20" fill="#0e0e0e" rx="2.1"/>
</g>
<g clip-path="url(#cpl)">
<g filter="url(#b2)"><rect x="306.3" y="252" width="17.5" height="18" fill="url(#lg)"/><ellipse cx="315.5" cy="250.0" rx="11.6" ry="11.6" fill="url(#rg)"/></g>
<g filter="url(#b1)">
<rect x="325.00" y="258.00" width="158.50" height="3.60" fill="#1a1a1a" rx="1.8"/>
<rect x="323.00" y="257.00" width="21.50" height="5.50" fill="#101010" rx="2.7"/>
<rect x="345.00" y="257.00" width="18.80" height="5.50" fill="#101010" rx="2.7"/>
<rect x="364.50" y="257.00" width="18.40" height="5.50" fill="#101010" rx="2.7"/>
<rect x="383.70" y="257.00" width="18.10" height="5.50" fill="#101010" rx="2.7"/>
<rect x="403.30" y="257.00" width="19.20" height="5.50" fill="#101010" rx="2.7"/>
<rect x="423.50" y="257.00" width="19.20" height="5.50" fill="#101010" rx="2.7"/>
<rect x="443.50" y="257.00" width="19.80" height="5.50" fill="#101010" rx="2.7"/>
<rect x="463.50" y="257.00" width="21.90" height="5.50" fill="#101010" rx="2.7"/>
</g></g>
<line x1="321.00" y1="193.00" x2="321.00" y2="206.40" stroke="#000" stroke-width="2.2" stroke-linecap="butt"/>
<line x1="381.00" y1="193.00" x2="381.00" y2="206.40" stroke="#000" stroke-width="2.2" stroke-linecap="butt"/>
<line x1="427.20" y1="193.00" x2="427.20" y2="206.40" stroke="#000" stroke-width="2.2" stroke-linecap="butt"/>
<line x1="489.30" y1="193.00" x2="489.30" y2="206.40" stroke="#000" stroke-width="2.2" stroke-linecap="butt"/>
<text x="350.40" y="198.80" font-size="8.6" text-anchor="middle" font-weight="bold" fill="#000" textLength="18" lengthAdjust="spacingAndGlyphs" style="stroke-width:.15px">IL-4c</text>
<text x="404.80" y="198.80" font-size="8.6" text-anchor="middle" font-weight="bold" fill="#000" textLength="16.3" lengthAdjust="spacingAndGlyphs" style="stroke-width:.15px">Thio</text>
<text x="452.40" y="198.80" font-size="8.6" text-anchor="middle" font-weight="bold" fill="#000" textLength="40" lengthAdjust="spacingAndGlyphs" style="stroke-width:.15px">Thio+IL-4c</text>
<text x="492.80" y="223.90" font-size="8.6" text-anchor="start" font-weight="bold" fill="#000" textLength="21.4" lengthAdjust="spacingAndGlyphs" style="stroke-width:.15px">UCP1</text>
<text x="492.50" y="255.90" font-size="8.6" text-anchor="start" font-weight="bold" fill="#000" textLength="26.8" lengthAdjust="spacingAndGlyphs" style="stroke-width:.15px">GAPDH</text>
<text x="277.20" y="230.50" font-size="8.4" text-anchor="start" font-weight="normal" fill="#000" style="stroke-width:.4px">29</text>
<line x1="286.80" y1="227.60" x2="294.50" y2="227.60" stroke="#000" stroke-width="2.0" stroke-linecap="butt"/>
<polygon points="293.2,223.90 299.5,227.60 293.2,231.30" fill="#000"/>
<text x="277.20" y="257.30" font-size="8.4" text-anchor="start" font-weight="normal" fill="#000" style="stroke-width:.4px">40</text>
<line x1="286.80" y1="254.40" x2="294.50" y2="254.40" stroke="#000" stroke-width="2.0" stroke-linecap="butt"/>
<polygon points="293.2,250.70 299.5,254.40 293.2,258.10" fill="#000"/>
</svg></body></html>
